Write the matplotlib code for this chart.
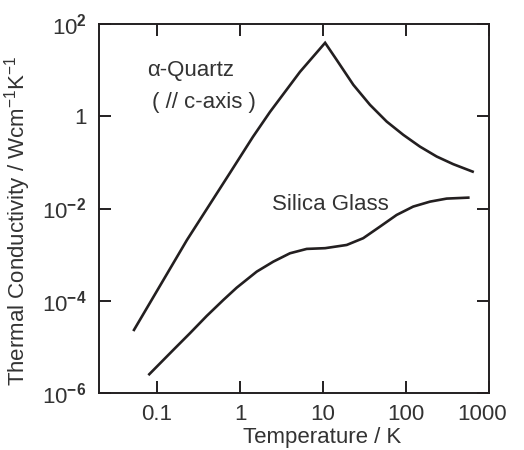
import matplotlib
matplotlib.use("Agg")
import matplotlib.pyplot as plt
from matplotlib.transforms import ScaledTranslation

plt.rcParams['font.family'] = ['Liberation Sans', 'DejaVu Sans']
plt.rcParams['mathtext.fontset'] = 'custom'
plt.rcParams['mathtext.rm'] = 'Liberation Sans'
plt.rcParams['mathtext.it'] = 'Liberation Sans:italic'
plt.rcParams['mathtext.bf'] = 'Liberation Sans:bold'

# alpha-quartz (parallel to c-axis)
quartz_T = [0.0528, 0.2296, 0.757, 1.43, 2.30, 5.28, 10.6,
            14.6, 23.2, 36.8, 58.5, 92.8, 147, 234, 371, 635]
quartz_K = [2.33e-5, 2.08e-3, 0.0592, 0.357, 1.245, 9.18, 39.1,
            16.7, 4.80, 1.77, 0.767, 0.395, 0.220, 0.134, 0.0914, 0.063]

# silica glass
glass_T = [0.0807, 0.157, 0.249, 0.397, 0.630, 0.912, 1.59, 2.52, 4.0,
           6.36, 10.6, 19.3, 30.5, 48.6, 77.2, 122, 195, 309, 563]
glass_K = [2.55e-6, 8.57e-6, 1.97e-5, 4.68e-5, 1.04e-4, 1.92e-4, 4.28e-4,
           7.05e-4, 1.07e-3, 1.33e-3, 1.38e-3, 1.62e-3, 2.27e-3, 4.05e-3,
           7.26e-3, 0.0110, 0.0141, 0.0164, 0.0172]

x_ticks = [0.1, 1, 10, 100, 1000]
x_ticklabels = ['0.1', '1', '10', '100', '1000']
y_ticks = [1e-6, 1e-4, 1e-2, 1, 1e2]
y_ticklabels = [r'$\mathregular{10^{\mathbf{-6}}}$', r'$\mathregular{10^{\mathbf{-4}}}$',
                r'$\mathregular{10^{\mathbf{-2}}}$', '1', r'$\mathregular{10^{\mathbf{2}}}$']

ink = '#231f20'
txt = '#333333'
fs = 16

fig = plt.figure(figsize=(5.24, 4.5), dpi=100)
ax = fig.add_axes([99/524, 1-393/450, 390/524, 369/450])

ax.plot(quartz_T, quartz_K, color=ink, lw=1.9, solid_joinstyle='miter')
ax.plot(glass_T, glass_K, color=ink, lw=1.9)

ax.set_xscale('log')
ax.set_yscale('log')
ax.set_xlim(0.02, 1000)
ax.set_ylim(1e-6, 1e2)

ax.set_xticks(x_ticks)
ax.set_xticklabels(x_ticklabels)
ax.set_yticks(y_ticks)
ax.set_yticklabels(y_ticklabels)
ax.minorticks_off()

ax.tick_params(axis='both', which='major', direction='in', length=8.5,
               width=1.4, colors=ink, labelcolor=txt, labelsize=fs,
               top=True, right=True)
ax.tick_params(axis='x', pad=8)
ax.tick_params(axis='y', pad=9)
for s in ax.spines.values():
    s.set_linewidth(1.4)
    s.set_color(ink)

# shift the "1000" label a bit left as in the reference
lbl = ax.get_xticklabels()[-1]
lbl.set_transform(lbl.get_transform() + ScaledTranslation(-7/100, 0, fig.dpi_scale_trans))

ax.set_xlabel('Temperature / K', fontsize=fs, color=txt)
ax.set_ylabel(r'Thermal Conductivity / Wcm$\mathregular{^{-1}}$K$\mathregular{^{-1}}$',
              fontsize=fs, color=txt)
ax.xaxis.set_label_coords(0.572, -0.092)
ax.yaxis.set_label_coords(-0.169, 0.466)

ax.text(0.123, 0.859, 'α-Quartz', transform=ax.transAxes, fontsize=fs,
        color=txt, ha='left', va='baseline')
ax.text(0.136, 0.772, '( // c-axis )', transform=ax.transAxes, fontsize=fs,
        color=txt, ha='left', va='baseline')
ax.text(0.444, 0.496, 'Silica Glass', transform=ax.transAxes, fontsize=fs,
        color=txt, ha='left', va='baseline')

fig.savefig('out.png', dpi=100, facecolor='white')
